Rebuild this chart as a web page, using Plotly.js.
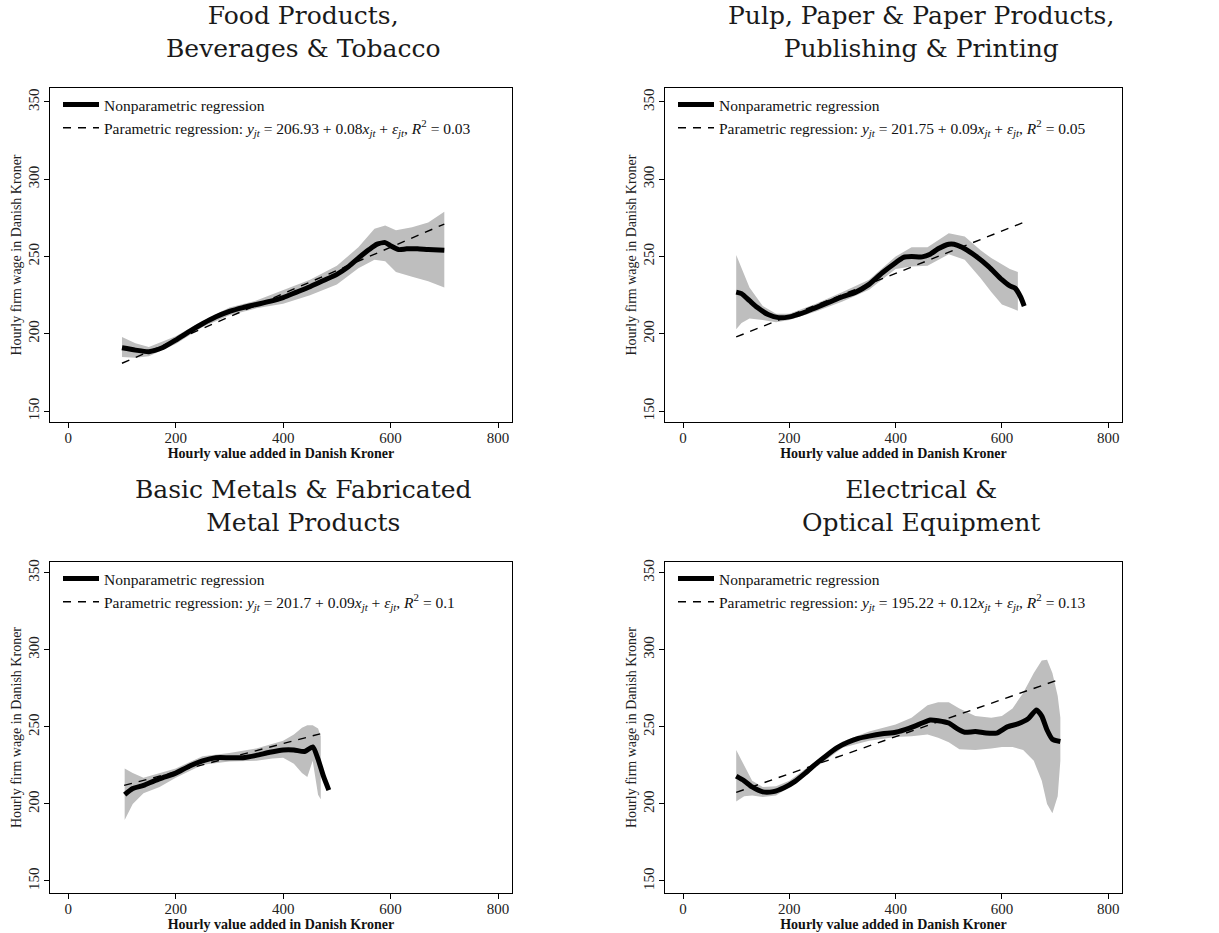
<!DOCTYPE html>
<html>
<head>
<meta charset="utf-8">
<script src="https://cdn.plot.ly/plotly-3.0.1.min.js"></script>
<style>html,body{margin:0;padding:0;background:#fff;}#chart{width:1219px;height:933px;}</style>
</head>
<body>
<div id="chart"></div>
<script>
// ---------- Panel titles ----------
const panelTitles = [
  "Food Products,<br>Beverages &amp; Tobacco",
  "Pulp, Paper &amp; Paper Products,<br>Publishing &amp; Printing",
  "Basic Metals &amp; Fabricated<br>Metal Products",
  "Electrical &amp;<br>Optical Equipment"
];
const xAxisTitle = "Hourly value added in Danish Kroner";
const yAxisTitle = "Hourly firm wage in Danish Kroner";
const xTicks = [0, 200, 400, 600, 800];
const yTicks = [150, 200, 250, 300, 350];

// regression equation text parts
const eqIntercept = ["206.93", "201.75", "201.7", "195.22"];
const eqSlope = ["0.08", "0.09", "0.09", "0.12"];
const eqR2 = ["0.03", "0.05", "0.1", "0.13"];

// ---------- Food Products ----------
const foodNpX = [100,125,150,175,200,225,250,275,300,325,350,375,400,425,450,475,500,520,540,560,575,590,600,615,630,650,670,700];
const foodNpY = [191,189.5,188.5,191,196,201.5,206.5,211,214.5,217,219,221,223.5,227,230.5,234.5,238.5,243,249,254.5,258,259,257,254.5,255,255,254.5,254];
const foodBandX = [100,125,150,200,250,300,350,400,450,500,540,570,590,610,640,670,700];
const foodBandHi = [198,194,191.5,198.5,208.5,217,221.5,228,235,244,256,268,270,267,269,272,279];
const foodBandLo = [185,184.5,185.5,193.5,204.5,212,216.5,219.5,225,232,242.5,248,247,240,237,234,230];
const foodParX = [100,700];
const foodParY = [181,271];

// ---------- Pulp, Paper ----------
const pulpNpX = [100,110,125,140,160,180,200,225,250,275,300,325,350,375,400,415,430,450,465,480,500,510,525,550,575,600,615,625,635,642];
const pulpNpY = [227,226,221.5,217,212.5,210.5,211,213.5,217,220.5,224,227,232,239.5,246,249.5,250,249.8,251.5,255,258,258,256,250.5,243.5,235,231,229.5,224,218];
const pulpBandX = [100,110,125,150,175,200,250,300,350,400,430,460,500,530,560,580,600,615,630];
const pulpBandHi = [251,243,230,218,213,213,219.5,227,235,250,256,256,265,263,254,249,245,242,240];
const pulpBandLo = [203,207,210,209,207.5,209,214.5,221,228.5,242,243.5,244,251.5,248,236,227,219,217,215];
const pulpParX = [100,640];
const pulpParY = [198,272];

// ---------- Basic Metals ----------
const metalNpX = [105,120,140,160,180,200,225,250,275,300,325,350,375,400,420,440,455,465,475,485];
const metalNpY = [206,210,212,215,217.5,220,224.5,228,230,230,230,231.5,233.5,235,235,234,237,229,218,209];
const metalBandX = [105,120,140,170,200,250,300,350,380,400,420,435,445,455,465,470];
const metalBandHi = [223,220,217,220,223,231,233,236,239,241,245,249.5,251,251,249,244];
const metalBandLo = [189.5,200,207,211,217,225.5,227.5,228,229.5,230,226,220,217.5,228,206,203];
const metalParX = [104,469];
const metalParY = [212,245.5];

// ---------- Electrical ----------
const elecNpX = [100,115,130,150,170,190,210,230,250,270,290,310,330,350,375,400,425,450,465,480,500,515,530,550,570,590,610,630,650,665,675,685,695,710];
const elecNpY = [218,215,211,207.8,208,210.5,214.5,220,226,231.5,236.5,240,242.5,244,245.5,246.5,249,252.5,254.5,254,252.5,249,246.5,247,246,246,250,252,255.5,261,257,248,242,240.5];
const elecBandX = [100,115,130,150,175,200,250,300,350,400,430,460,480,500,520,550,580,600,620,640,660,675,685,695,705,710];
const elecBandHi = [235,225,215,211,211.5,215,228,240.5,247,251.5,256,264,266,266,262,257,256,257,262,272,285,293,293.5,285,270,256];
const elecBandLo = [201.5,205,205.5,204.5,205.5,211,224,236.5,241,243.5,244,245,243,240,235.5,235,236,237,237,235,228,215,200,194,205,228];
const elecParX = [100,710];
const elecParY = [207.5,281];

const panels = [
  {npX: foodNpX, npY: foodNpY, bX: foodBandX, bHi: foodBandHi, bLo: foodBandLo, pX: foodParX, pY: foodParY},
  {npX: pulpNpX, npY: pulpNpY, bX: pulpBandX, bHi: pulpBandHi, bLo: pulpBandLo, pX: pulpParX, pY: pulpParY},
  {npX: metalNpX, npY: metalNpY, bX: metalBandX, bHi: metalBandHi, bLo: metalBandLo, pX: metalParX, pY: metalParY},
  {npX: elecNpX, npY: elecNpY, bX: elecBandX, bHi: elecBandHi, bLo: elecBandLo, pX: elecParX, pY: elecParY}
];

// ---------- layout geometry ----------
const W = 1219, H = 933;
const colPx = [[50, 512], [665, 1122]];
const rowPx = [[88, 422], [562, 893]];
const yRanges = [[143, 359], [142.2, 357]];
const xRange = [-34, 826];
const serif = "Liberation Serif, Times New Roman, serif";
const titleFont = "DejaVu Serif, serif";

const traces = [];
const layout = {
  width: W, height: H,
  margin: {l: 0, r: 0, t: 0, b: 0},
  paper_bgcolor: "#ffffff", plot_bgcolor: "#ffffff",
  showlegend: true,
  annotations: [],
  font: {family: serif, color: "#111"}
};

panels.forEach((p, i) => {
  const r = Math.floor(i / 2), c = i % 2;
  const ax = i === 0 ? "" : String(i + 1);
  const xa = "x" + ax, ya = "y" + ax;
  const lg = i === 0 ? "legend" : "legend" + (i + 1);
  const x0 = colPx[c][0] / W, x1 = colPx[c][1] / W;
  const y0 = 1 - rowPx[r][1] / H, y1 = 1 - rowPx[r][0] / H;

  // confidence band polygon
  const polyX = p.bX.concat(p.bX.slice().reverse());
  const polyY = p.bHi.concat(p.bLo.slice().reverse());
  traces.push({
    type: "scatter", mode: "lines", x: polyX, y: polyY, xaxis: xa, yaxis: ya,
    fill: "toself", fillcolor: "rgb(190,190,190)", line: {width: 0, color: "rgba(0,0,0,0)"},
    showlegend: false, hoverinfo: "skip", legend: lg
  });
  traces.push({
    type: "scatter", mode: "lines", x: p.npX, y: p.npY, xaxis: xa, yaxis: ya,
    line: {color: "#000", width: 5, shape: "spline", smoothing: 0.6},
    name: "Nonparametric regression", legend: lg
  });
  traces.push({
    type: "scatter", mode: "lines", x: p.pX, y: p.pY, xaxis: xa, yaxis: ya,
    line: {color: "#000", width: 1.4, dash: "8px,7px"},
    name: "Parametric regression: <i>y<sub>jt</sub></i> = " + eqIntercept[i] + " + " + eqSlope[i] +
          "<i>x<sub>jt</sub></i> + <i>ε<sub>jt</sub></i>, <i>R</i><sup>2</sup> = " + eqR2[i],
    legend: lg
  });

  const axisCommon = {
    showline: true, mirror: true, linecolor: "#000", linewidth: 1.3,
    ticks: "outside", ticklen: 5, tickwidth: 1, tickcolor: "#000",
    showgrid: false, zeroline: false, fixedrange: true,
    tickfont: {family: serif, size: 15, color: "#222"}
  };
  layout["xaxis" + ax] = Object.assign({}, axisCommon, {
    domain: [x0, x1], anchor: ya, range: xRange, tickmode: "array", tickvals: xTicks,
    ticklabelstandoff: -3,
    title: {text: "<b>" + xAxisTitle + "</b>", font: {family: serif, size: 14, color: "#111"}, standoff: 0}
  });
  layout["yaxis" + ax] = Object.assign({}, axisCommon, {
    domain: [y0, y1], anchor: xa, range: yRanges[r], tickmode: "array", tickvals: yTicks,
    tickangle: -90, ticklabelstandoff: -1,
    title: {text: yAxisTitle, font: {family: serif, size: 14, color: "#222"}, standoff: 0}
  });
  layout[lg] = {
    x: (colPx[c][0] + 8) / W, y: 1 - (rowPx[r][0] + 0) / H, xanchor: "left", yanchor: "top",
    xref: "paper", yref: "paper",
    bgcolor: "rgba(0,0,0,0)", borderwidth: 0,
    font: {family: serif, size: 15.5, color: "#111"},
    tracegroupgap: 0, itemwidth: 36
  };
  // panel title (two lines)
  const tcx = [303, 921][c] / W;
  const tcy = [32, 506][r];
  layout.annotations.push({
    text: panelTitles[i], xref: "paper", yref: "paper",
    x: tcx, y: 1 - tcy / H, xanchor: "center", yanchor: "middle",
    showarrow: false, align: "center",
    font: {family: titleFont, size: 25, color: "#1a1a1a"}
  });
});

Plotly.newPlot("chart", traces, layout, {staticPlot: true, displayModeBar: false});
</script>
</body>
</html>
